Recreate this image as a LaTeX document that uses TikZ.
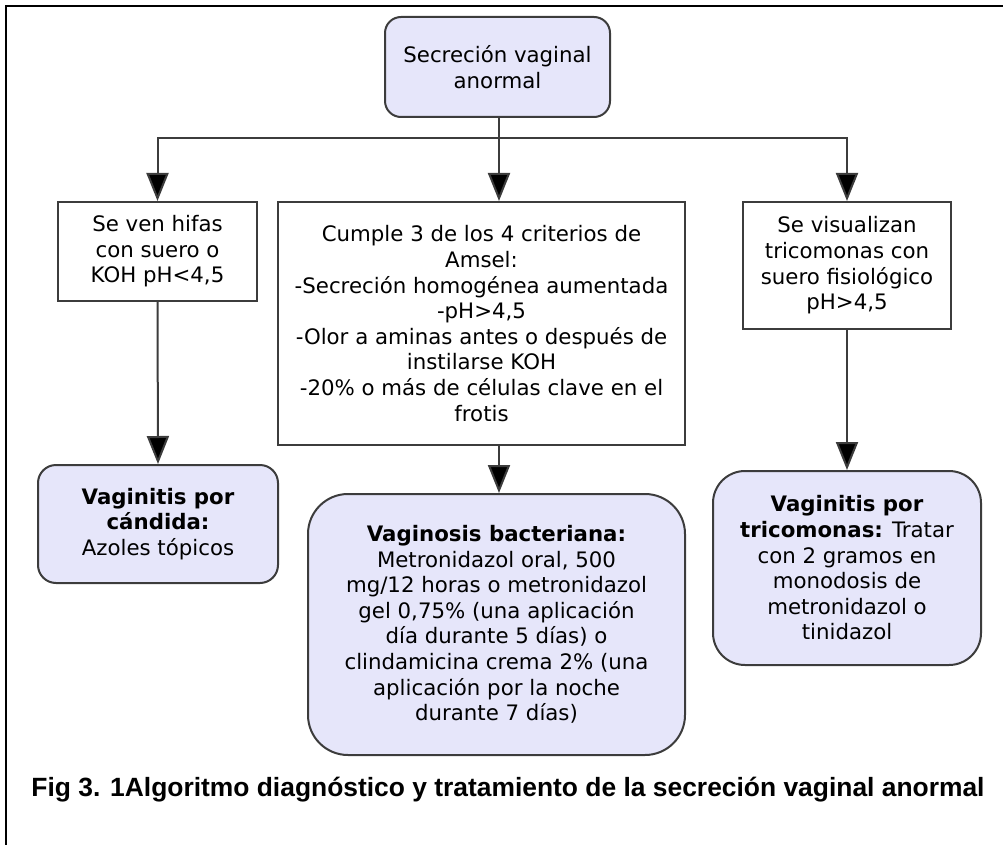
\documentclass[tikz,border=0pt]{standalone}
\usepackage{fontspec}
\setmainfont{DejaVu Sans}
\newfontfamily\capfont{Liberation Sans}
\usetikzlibrary{arrows.meta}
\definecolor{boxfill}{RGB}{230,230,250}
\definecolor{linegray}{RGB}{60,60,60}

\begin{document}
\begin{tikzpicture}[x=1pt, y=-1pt,
	every node/.style={font=\fontsize{21.3}{25.6}\selectfont, align=center, inner sep=0pt},
	testbox/.style={draw=linegray, line width=2pt, fill=white},
	endbox/.style={draw=linegray, line width=2pt, fill=boxfill, rounded corners=#1},
	endbox/.default=16pt,
	conn/.style={draw=linegray, line width=2pt},
	arr/.style={conn, -{Triangle[width=22pt,length=28pt,fill=black]}}]
		\useasboundingbox (0,0) rectangle (1003,845);
		\draw[line width=2.5pt] (6,845) -- (6,6) -- (1003,6);
		% first level
		\node[endbox, minimum width=225pt, minimum height=100pt] (secrecion) at (497.5,67) {Secreción vaginal\\anormal};
		\node[testbox, minimum width=199pt, minimum height=99pt] (hifas) at (157.5,251.5) {Se ven hifas\\con suero o\\KOH pH<4,5};
		\node[testbox, minimum width=407pt, minimum height=243pt] (amsel) at (481.5,323.5) {Cumple 3 de los 4 criterios de\\Amsel:\\-Secreción homogénea aumentada\\-pH>4,5\\-Olor a aminas antes o después de\\instilarse KOH\\-20\% o más de células clave en el\\frotis};
		\node[testbox, minimum width=208pt, minimum height=127pt] (visual) at (847,265.5) {Se visualizan\\tricomonas con\\suero fisiológico\\pH>4,5};
		% treatment
		\node[endbox=18pt, minimum width=240pt, minimum height=118pt] (candida) at (158,524) {\textbf{Vaginitis por}\\\textbf{cándida:}\\Azoles tópicos};
		\node[endbox=40pt, minimum width=377pt, minimum height=261pt] (bacteriana) at (496.5,624.5) {\textbf{Vaginosis bacteriana:}\\Metronidazol oral, 500\\mg/12 horas o metronidazol\\gel 0,75\% (una aplicación\\día durante 5 días) o\\clindamicina crema 2\% (una\\aplicación por la noche\\durante 7 días)};
		\node[endbox=32pt, minimum width=268pt, minimum height=194pt] (tricomonas) at (847,568) {\textbf{Vaginitis por}\\\textbf{tricomonas:} Tratar\\con 2 gramos en\\monodosis de\\metronidazol o\\tinidazol};
		\node[font=\capfont\bfseries\fontsize{26.4}{30}\selectfont] (caption) at (508,790) {Fig 3. 1Algoritmo diagnóstico y tratamiento de la secreción vaginal anormal};
		% connectors
		\coordinate (split) at (499,138);
		\draw[conn] (secrecion.south -| split) -- (split);
		\draw[arr] (split) -| (hifas.north);
		\draw[arr] (split) -- (split |- amsel.north);
		\draw[arr] (split) -| (visual.north);
		\draw[arr] (hifas.south) -- (candida.north);
		\draw[arr] (split |- amsel.south) -- (split |- bacteriana.north);
		\draw[arr] (visual.south) -- (tricomonas.north);
	\end{tikzpicture}
\end{document}
